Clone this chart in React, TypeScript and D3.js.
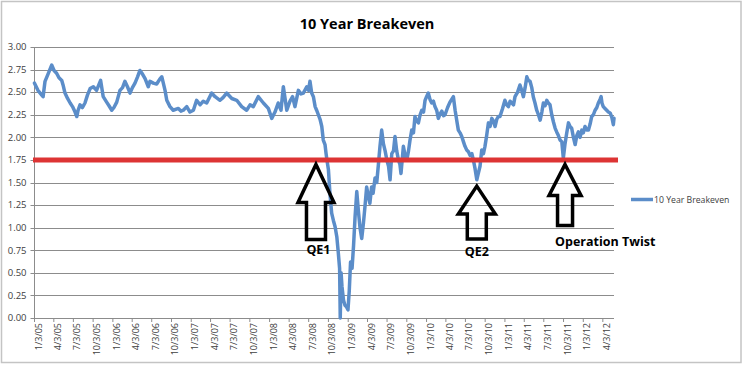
import React from "react";
import * as d3 from "d3";

// ---------- data ----------
const title = "10 Year Breakeven";
const seriesName = "10 Year Breakeven";

const dates = [
  "2005-01-03","2005-01-19","2005-02-05","2005-02-12","2005-02-21","2005-03-07","2005-03-24","2005-04-04","2005-04-16","2005-04-27",
  "2005-05-10","2005-05-16","2005-05-25","2005-06-06","2005-06-18","2005-06-29","2005-07-11","2005-07-19","2005-07-25","2005-08-03",
  "2005-08-14","2005-08-26","2005-09-07","2005-09-19","2005-10-04","2005-10-19","2005-11-07","2005-11-19","2005-12-05","2005-12-16",
  "2005-12-29","2006-01-08","2006-01-21","2006-02-05","2006-02-17","2006-02-28","2006-03-12","2006-03-24","2006-04-04","2006-04-16",
  "2006-04-28","2006-05-09","2006-05-21","2006-06-02","2006-06-17","2006-06-25","2006-07-10","2006-07-26","2006-08-11","2006-08-19",
  "2006-08-26","2006-09-03","2006-09-11","2006-09-26","2006-10-11","2006-11-04","2006-11-16","2006-11-27","2006-12-13","2006-12-28",
  "2007-01-13","2007-01-28","2007-02-13","2007-02-28","2007-03-16","2007-04-08","2007-04-24","2007-05-17","2007-05-31","2007-06-17",
  "2007-07-11","2007-08-03","2007-08-26","2007-09-18","2007-10-04","2007-10-19","2007-11-11","2007-12-05","2007-12-28","2008-01-13",
  "2008-01-28","2008-02-12","2008-02-25","2008-03-07","2008-03-23","2008-04-07","2008-04-19","2008-04-30","2008-05-16","2008-05-28",
  "2008-06-08","2008-06-24","2008-07-02","2008-07-09","2008-07-17","2008-07-25","2008-08-02","2008-08-09","2008-08-17","2008-08-25",
  "2008-09-02","2008-09-09","2008-09-17","2008-09-22","2008-09-26","2008-10-03","2008-10-10","2008-10-18","2008-10-26","2008-11-03",
  "2008-11-11","2008-11-18","2008-11-24","2008-11-27","2008-12-01","2008-12-05","2008-12-12","2008-12-19","2008-12-27","2009-01-02",
  "2009-01-08","2009-01-14","2009-01-21","2009-01-28","2009-02-04","2009-02-12","2009-02-19","2009-02-27","2009-03-07","2009-03-15",
  "2009-03-22","2009-03-30","2009-04-07","2009-04-14","2009-04-22","2009-04-29","2009-05-08","2009-05-16","2009-05-23","2009-05-31",
  "2009-06-08","2009-06-16","2009-06-24","2009-07-02","2009-07-10","2009-07-17","2009-07-25","2009-08-02","2009-08-09","2009-08-17",
  "2009-08-25","2009-09-01","2009-09-06","2009-09-17","2009-09-25","2009-10-03","2009-10-11","2009-10-18","2009-10-26","2009-11-03",
  "2009-11-10","2009-11-18","2009-11-26","2009-12-04","2009-12-12","2009-12-20","2009-12-27","2010-01-03","2010-01-11","2010-01-19",
  "2010-01-27","2010-02-04","2010-02-11","2010-02-19","2010-02-27","2010-03-07","2010-03-15","2010-03-23","2010-03-30","2010-04-11",
  "2010-04-22","2010-04-30","2010-05-08","2010-05-16","2010-05-24","2010-05-31","2010-06-08","2010-06-16","2010-06-24","2010-07-01",
  "2010-07-09","2010-07-17","2010-07-25","2010-08-02","2010-08-09","2010-08-17","2010-08-25","2010-09-01","2010-09-09","2010-09-17",
  "2010-09-25","2010-10-02","2010-10-10","2010-10-18","2010-10-26","2010-11-03","2010-11-11","2010-11-18","2010-11-26","2010-12-03",
  "2010-12-11","2010-12-23","2011-01-03","2011-01-11","2011-01-19","2011-01-27","2011-02-04","2011-02-12","2011-02-19","2011-03-03",
  "2011-03-14","2011-03-22","2011-03-30","2011-04-07","2011-04-15","2011-04-22","2011-04-30","2011-05-08","2011-05-15","2011-05-23",
  "2011-05-31","2011-06-08","2011-06-16","2011-06-24","2011-07-01","2011-07-09","2011-07-17","2011-07-24","2011-08-01","2011-08-09",
  "2011-08-17","2011-08-25","2011-09-01","2011-09-09","2011-09-17","2011-09-25","2011-10-02","2011-10-10","2011-10-18","2011-10-26",
  "2011-11-02","2011-11-10","2011-11-18","2011-11-26","2011-12-04","2011-12-11","2011-12-19","2011-12-27","2012-01-03","2012-01-11",
  "2012-01-19","2012-01-27","2012-02-04","2012-02-11","2012-02-19","2012-02-27","2012-03-06","2012-03-13","2012-03-21","2012-03-26",
  "2012-03-30","2012-04-05","2012-04-13","2012-04-21","2012-04-29","2012-05-07","2012-05-15","2012-05-22","2012-05-25"
];

const values = [
  2.60,2.52,2.47,2.45,2.62,2.70,2.80,2.74,2.71,2.66,
  2.63,2.58,2.49,2.43,2.38,2.34,2.28,2.23,2.30,2.36,
  2.33,2.38,2.47,2.54,2.56,2.52,2.63,2.45,2.39,2.35,
  2.30,2.33,2.39,2.52,2.55,2.62,2.56,2.49,2.55,2.60,
  2.67,2.74,2.70,2.65,2.56,2.62,2.60,2.59,2.65,2.67,
  2.60,2.52,2.41,2.34,2.30,2.32,2.29,2.30,2.34,2.28,
  2.30,2.41,2.36,2.40,2.38,2.49,2.45,2.41,2.44,2.49,
  2.43,2.41,2.34,2.30,2.36,2.34,2.45,2.38,2.32,2.21,
  2.28,2.38,2.30,2.56,2.30,2.40,2.45,2.34,2.52,2.48,
  2.49,2.56,2.52,2.62,2.49,2.45,2.34,2.30,2.25,2.20,
  2.12,1.97,1.92,1.82,1.75,1.64,1.38,1.16,1.08,1.01,
  0.90,0.72,0.55,0.00,0.50,0.35,0.20,0.14,0.12,0.09,
  0.30,0.62,0.55,0.80,1.12,1.40,1.20,1.00,0.88,1.05,
  1.23,1.45,1.35,1.27,1.45,1.38,1.55,1.50,1.68,1.90,
  2.08,1.93,1.85,1.75,1.68,1.53,1.82,1.85,2.01,1.85,
  1.75,1.70,1.60,1.90,1.80,1.75,1.85,1.97,2.08,2.05,
  2.23,2.18,2.16,2.25,2.30,2.28,2.41,2.45,2.49,2.42,
  2.38,2.40,2.34,2.30,2.21,2.26,2.29,2.24,2.25,2.33,
  2.39,2.42,2.45,2.30,2.18,2.08,2.05,2.01,1.95,1.90,
  1.86,1.84,1.80,1.82,1.75,1.65,1.53,1.60,1.68,1.86,
  1.82,1.90,2.02,2.16,2.12,2.21,2.18,2.12,2.20,2.23,
  2.23,2.32,2.41,2.36,2.34,2.40,2.38,2.36,2.45,2.50,
  2.58,2.52,2.45,2.55,2.67,2.63,2.62,2.55,2.45,2.38,
  2.30,2.25,2.19,2.28,2.38,2.35,2.41,2.38,2.36,2.25,
  2.17,2.10,2.06,2.02,1.97,1.95,1.77,1.93,2.05,2.16,
  2.12,2.10,2.00,1.92,2.02,2.06,2.00,2.08,2.05,2.12,
  2.08,2.08,2.15,2.23,2.25,2.30,2.33,2.38,2.42,2.45,
  2.38,2.34,2.32,2.30,2.28,2.27,2.22,2.14,2.21
];

const yTickValues = [0, 0.25, 0.5, 0.75, 1, 1.25, 1.5, 1.75, 2, 2.25, 2.5, 2.75, 3];

const xTickLabels = [
  "1/3/05","4/3/05","7/3/05","10/3/05","1/3/06","4/3/06","7/3/06","10/3/06",
  "1/3/07","4/3/07","7/3/07","10/3/07","1/3/08","4/3/08","7/3/08","10/3/08",
  "1/3/09","4/3/09","7/3/09","10/3/09","1/3/10","4/3/10","7/3/10","10/3/10",
  "1/3/11","4/3/11","7/3/11","10/3/11","1/3/12","4/3/12"
];

const xDomain = ["2005-01-03", "2012-05-25"];
const thresholdValue = 1.75;

const annotationLabels = ["QE1", "QE2", "Operation Twist"];
const annotationDates = ["2008-08-06", "2010-08-25", "2011-10-10"];
const annotationTipValues = [1.70, 1.46, 1.70];

// ---------- styles / layout ----------
const W = 743;
const H = 365;
const plot = { left: 34.5, right: 614, top: 47, bottom: 318 };
const lineColor = "#5B8DC9";
const gridColor = "#8C8C8C";
const redColor = "#DD3434";
const font = "'Open Sans', 'Liberation Sans', sans-serif";

// arrow geometry: [headLen, headHalf, shaftHalf, shaftLen, labelDx, labelDy, anchor]
const arrowShapes: [number, number, number, number, number, number, string][] = [
  [38, 18, 9.5, 37, 2.5, 90, "middle"],
  [28, 18.5, 9.5, 25, 0, 70, "middle"],
  [31, 16, 7.5, 30, -10, 81.5, "start"],
];

export default function App() {
  const parse = d3.timeParse("%Y-%m-%d");
  const parseTick = d3.timeParse("%m/%d/%y");
  const data = dates.map((d, i) => ({ date: parse(d) as Date, value: values[i] }));

  const x = d3
    .scaleTime()
    .domain(xDomain.map((d) => parse(d) as Date))
    .range([plot.left, plot.right]);
  const y = d3.scaleLinear().domain([0, 3]).range([plot.bottom, plot.top]);

  const line = d3
    .line<{ date: Date; value: number }>()
    .x((d) => x(d.date))
    .y((d) => y(d.value));

  const yFmt = d3.format(".2f");

  const arrowPath = (tx: number, ty: number, s: [number, number, number, number, number, number, string]) => {
    const [hl, hh, sh, sl] = s;
    const p = d3.path();
    p.moveTo(tx, ty);
    p.lineTo(tx + hh, ty + hl);
    p.lineTo(tx + sh, ty + hl);
    p.lineTo(tx + sh, ty + hl + sl);
    p.lineTo(tx - sh, ty + hl + sl);
    p.lineTo(tx - sh, ty + hl);
    p.lineTo(tx - hh, ty + hl);
    p.closePath();
    return p.toString();
  };

  return (
    <svg
      width={W}
      height={H}
      style={{ position: "absolute", left: 0, top: 0, background: "#fff" }}
      fontFamily={font}
    >
      <rect x={1.5} y={1.5} width={W - 3.5} height={H - 4} fill="#fff" stroke="#C4C4C4" strokeWidth={1.5} />

      <text x={367} y={29} textAnchor="middle" fontSize={14.5} fontWeight="bold" fill="#000">
        {title}
      </text>

      {/* gridlines */}
      {yTickValues.map((v) => (
        <line
          key={"g" + v}
          x1={plot.left}
          x2={plot.right}
          y1={Math.round(y(v)) + 0.5}
          y2={Math.round(y(v)) + 0.5}
          stroke={gridColor}
          strokeWidth={1}
        />
      ))}

      {/* y axis */}
      <line x1={plot.left} x2={plot.left} y1={plot.top} y2={plot.bottom} stroke={gridColor} />
      {yTickValues.map((v) => (
        <g key={"yt" + v}>
          <line x1={plot.left - 4} x2={plot.left} y1={Math.round(y(v)) + 0.5} y2={Math.round(y(v)) + 0.5} stroke={gridColor} />
          <text x={26.5} y={y(v) + 3.3} textAnchor="end" fontSize={9.5} fill="#404040">
            {yFmt(v)}
          </text>
        </g>
      ))}

      {/* x axis ticks and labels */}
      {xTickLabels.map((lab) => {
        const tx = x(parseTick(lab) as Date);
        return (
          <g key={"xt" + lab}>
            <line x1={tx} x2={tx} y1={plot.bottom} y2={plot.bottom + 4} stroke={gridColor} />
            <text
              transform={`translate(${tx + 7},${plot.bottom + 5}) rotate(-90)`}
              textAnchor="end"
              fontSize={9}
              fill="#404040"
            >
              {lab}
            </text>
          </g>
        );
      })}

      {/* series */}
      <path d={line(data) || ""} fill="none" stroke={lineColor} strokeWidth={3.5} strokeLinejoin="round" strokeLinecap="round" />

      {/* threshold */}
      <line
        x1={plot.left - 1.5}
        x2={plot.right + 4}
        y1={y(thresholdValue)}
        y2={y(thresholdValue)}
        stroke={redColor}
        strokeWidth={5}
      />

      {/* annotations */}
      {annotationLabels.map((lab, i) => {
        const tx = x(parse(annotationDates[i]) as Date);
        const ty = y(annotationTipValues[i]);
        const s = arrowShapes[i];
        return (
          <g key={"a" + lab}>
            <path d={arrowPath(tx, ty, s)} fill="none" stroke="#000" strokeWidth={3.5} strokeLinejoin="miter" />
            <text x={tx + s[4]} y={ty + s[5]} textAnchor={s[6] as any} fontSize={12.5} fontWeight="bold" fill="#000">
              {lab}
            </text>
          </g>
        );
      })}

      {/* legend */}
      <line x1={631} x2={653} y1={199.5} y2={199.5} stroke={lineColor} strokeWidth={3.5} />
      <text x={654} y={202.5} fontSize={8.7} fill="#404040">
        {seriesName}
      </text>
    </svg>
  );
}
